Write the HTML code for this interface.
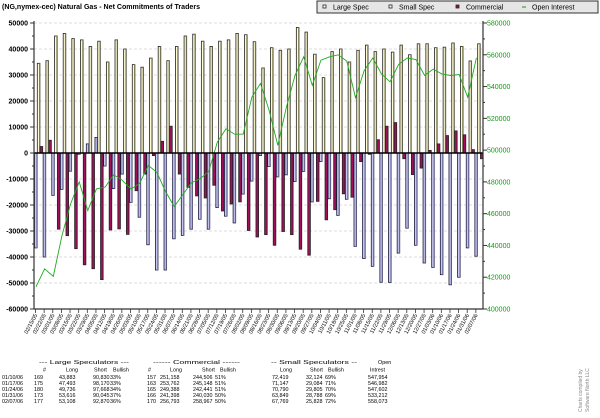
<!DOCTYPE html>
<html><head><meta charset="utf-8"><style>
html,body{margin:0;padding:0;background:#fff;width:600px;height:418px;overflow:hidden}
svg{display:block;font-family:"Liberation Sans",sans-serif}
</style></head><body>
<svg id="chart" width="600" height="418" viewBox="0 0 600 418" xmlns="http://www.w3.org/2000/svg">
<text x="2" y="9" font-size="7" font-weight="bold" textLength="198" lengthAdjust="spacingAndGlyphs">(NG,nymex-cec) Natural Gas - Net Commitments of Traders</text>
<g>
<rect x="317" y="1" width="281" height="12" fill="#e6e6e6" stroke="#333" stroke-width="1"/>
<rect x="323" y="5" width="3" height="3" fill="#fff" stroke="#222" stroke-width="0.8"/>
<text x="333" y="9.5" font-size="7">Large Spec</text>
<rect x="389" y="5" width="3" height="3" fill="#fff" stroke="#222" stroke-width="0.8"/>
<text x="399" y="9.5" font-size="7">Small Spec</text>
<rect x="456" y="5" width="3" height="3" fill="#a0105a" stroke="#222" stroke-width="0.8"/>
<text x="466" y="9.5" font-size="7">Commercial</text>
<line x1="522" y1="7" x2="526" y2="7" stroke="#119911" stroke-width="1"/>
<text x="532" y="9.5" font-size="7">Open Interest</text>
</g>
<g id="grid"></g><g id="bars"></g><g id="oi"></g><g id="axes"></g><g id="xlabels"></g>
<g font-size="5.4" fill="#000">
<text x="39" y="364" textLength="90" lengthAdjust="spacingAndGlyphs">--- Large Speculators ---</text>
<text x="153" y="364" textLength="87" lengthAdjust="spacingAndGlyphs">------ Commercial ------</text>
<text x="271" y="364" textLength="86" lengthAdjust="spacingAndGlyphs">-- Small Speculators --</text>
<text x="378" y="364">Open</text>
<text x="43" y="371.5">#</text><text x="66" y="371.5">Long</text><text x="94" y="371.5">Short</text><text x="113" y="371.5">Bullish</text>
<text x="148" y="371.5">#</text><text x="170" y="371.5">Long</text><text x="202" y="371.5">Short</text><text x="220" y="371.5">Bullish</text>
<text x="280" y="371.5">Long</text><text x="310" y="371.5">Short</text><text x="328" y="371.5">Bullish</text><text x="370" y="371.5">Intrest</text>
<g>
<text x="2" y="379">01/10/06</text><text x="34" y="379">169</text><text x="59" y="379">43,883</text><text x="93" y="379">90,830</text><text x="110" y="379">33%</text><text x="147" y="379">157</text><text x="160" y="379">251,158</text><text x="193" y="379">244,506</text><text x="215" y="379">51%</text><text x="272" y="379">72,419</text><text x="306" y="379">32,124</text><text x="325" y="379">69%</text><text x="368" y="379">547,954</text>
</g><g>
<text x="2" y="385">01/17/06</text><text x="34" y="385">175</text><text x="59" y="385">47,493</text><text x="93" y="385">98,170</text><text x="110" y="385">33%</text><text x="147" y="385">163</text><text x="160" y="385">253,762</text><text x="193" y="385">245,148</text><text x="215" y="385">51%</text><text x="272" y="385">71,147</text><text x="306" y="385">29,084</text><text x="325" y="385">71%</text><text x="368" y="385">546,982</text>
</g><g>
<text x="2" y="391">01/24/06</text><text x="34" y="391">180</text><text x="59" y="391">49,736</text><text x="93" y="391">97,668</text><text x="110" y="391">34%</text><text x="147" y="391">165</text><text x="160" y="391">249,388</text><text x="193" y="391">242,441</text><text x="215" y="391">51%</text><text x="272" y="391">70,790</text><text x="306" y="391">29,805</text><text x="325" y="391">70%</text><text x="368" y="391">547,602</text>
</g><g>
<text x="2" y="397">01/31/06</text><text x="34" y="397">173</text><text x="59" y="397">53,616</text><text x="93" y="397">90,045</text><text x="110" y="397">37%</text><text x="147" y="397">166</text><text x="160" y="397">241,398</text><text x="193" y="397">240,030</text><text x="215" y="397">50%</text><text x="272" y="397">63,849</text><text x="306" y="397">28,788</text><text x="325" y="397">69%</text><text x="368" y="397">533,212</text>
</g><g>
<text x="2" y="403">02/07/06</text><text x="34" y="403">177</text><text x="59" y="403">53,108</text><text x="93" y="403">92,870</text><text x="110" y="403">36%</text><text x="147" y="403">170</text><text x="160" y="403">256,793</text><text x="193" y="403">258,967</text><text x="215" y="403">50%</text><text x="272" y="403">67,769</text><text x="306" y="403">25,828</text><text x="325" y="403">72%</text><text x="368" y="403">558,073</text>
</g>
</g>
<text transform="translate(582,412) rotate(-90)" font-size="5" fill="#888">Charts compiled by</text>
<text transform="translate(589,412) rotate(-90)" font-size="5" fill="#888">Software North LLC</text>
</svg>
<script>
const dates = ["02/15/05","02/22/05","03/01/05","03/08/05","03/15/05","03/22/05","03/29/05","04/05/05","04/12/05","04/19/05","04/26/05","05/03/05","05/10/05","05/17/05","05/24/05","05/31/05","06/07/05","06/14/05","06/21/05","06/28/05","07/05/05","07/12/05","07/19/05","07/26/05","08/02/05","08/09/05","08/16/05","08/23/05","08/30/05","09/06/05","09/13/05","09/20/05","09/27/05","10/04/05","10/11/05","10/18/05","10/25/05","11/01/05","11/08/05","11/15/05","11/22/05","11/29/05","12/06/05","12/13/05","12/20/05","12/27/05","01/03/06","01/10/06","01/17/06","01/24/06","01/31/06","02/07/06"];
const largeSpec = [-36500,-40000,-16300,-14000,-7000,-500,3500,6000,-5000,-13700,-8100,-19000,-24700,-35300,-45000,-45000,-33000,-31700,-29300,-25500,-29300,-21000,-24300,-26900,-15800,-10800,-1000,-5200,-9200,-8400,-11000,-7100,-18800,-3300,-17600,-24000,-17800,-35900,-40600,-43600,-49700,-49800,-38500,-28900,-35500,-42300,-44000,-46800,-50700,-47800,-36500,-39700];
const smallSpec = [34500,35500,45000,46000,44000,43500,41000,43000,35000,43500,40000,34000,33000,36500,41000,35500,41000,45000,45700,43000,41000,43000,43500,46000,45500,42800,32700,40500,39500,40000,48300,46500,38000,29000,39000,40000,35000,39500,41500,39000,40000,38800,41500,37800,42000,42000,40500,40700,42300,41000,35400,42000];
const commercial = [2500,4900,-29300,-31800,-36800,-43000,-44500,-48700,-29600,-29200,-31300,-14500,-8100,-1000,4500,10300,-8100,-13200,-16500,-17300,-12400,-22300,-19600,-18800,-29800,-32300,-31400,-35500,-30200,-31400,-37000,-39300,-18600,-25700,-21800,-15700,-17000,-3300,-500,5100,10300,11700,-2200,-8300,-5800,1000,3500,6700,8500,7000,1300,-2200];
const openInterest = [414000,425300,420500,446000,466000,480000,462000,475600,476700,484500,481000,475500,479000,490300,486000,474000,464500,472000,479500,482000,486500,505000,513500,510000,510000,533400,542000,525000,503000,527000,547000,558700,540700,556600,558700,560000,556000,533000,550000,558000,548000,543000,554000,558000,557000,547000,551000,547954,546982,547602,533212,558073];
const leftTicks = [50000,40000,30000,20000,10000,0,-10000,-20000,-30000,-40000,-50000,-60000];
const rightTicks = [580000,560000,540000,520000,500000,480000,460000,440000,420000,400000];

const NS="http://www.w3.org/2000/svg";
const X0=34, X1=483, YT=23, YB=309;
const step=(X1-X0)/dates.length;
function yL(v){return 153 - v*0.0026;}
function yR(v){return YB - (v-400000)*(YT-YB)/(400000-580000);}
function xG(i){return X0 + 0.5 + i*step;}
function mk(tag,attrs,parent){const e=document.createElementNS(NS,tag);for(const k in attrs)e.setAttribute(k,attrs[k]);parent.appendChild(e);return e;}
const grid=document.getElementById('grid'),bars=document.getElementById('bars'),oi=document.getElementById('oi'),axes=document.getElementById('axes'),xl=document.getElementById('xlabels');

leftTicks.forEach(v=>{
  const y=yL(v);
  if(v!==0 && v!==-60000){const g=mk('line',{x1:X0,x2:X1,y1:y,y2:y,stroke:'#d4d4d4','stroke-width':0.8,'stroke-dasharray':'3,2'},grid);
  
  }
  const t=mk('text',{x:28,y:y+2.5,'font-size':7,'text-anchor':'end','font-weight':'bold'},axes);
  t.textContent=v;
  
  
  mk('line',{x1:X0-4,x2:X0,y1:y,y2:y,stroke:'#333','stroke-width':1},axes);
  if(v>-60000) mk('line',{x1:X0-2,x2:X0,y1:yL(v-5000),y2:yL(v-5000),stroke:'#333','stroke-width':1},axes);
});
rightTicks.forEach(v=>{
  const y=yR(v);
  const t=mk('text',{x:487,y:y+2.5,'font-size':7,fill:'#119911'},axes);
  t.textContent=v;
  
  
  mk('line',{x1:X1,x2:X1+4,y1:y,y2:y,stroke:'#333','stroke-width':1},axes);
  if(v>400000) mk('line',{x1:X1,x2:X1+2,y1:yR(v-10000),y2:yR(v-10000),stroke:'#333','stroke-width':1},axes);
});

const bw=2.6;
function bar(i,off,v,fill,stroke,shade,name){
  const y0=yL(0), y=yL(v);
  const top=Math.min(y,y0), h=Math.max(0.8,Math.abs(y-y0));
  const r=mk('rect',{x:xG(i)+off,y:top,width:bw,height:h,fill:fill,stroke:stroke,'stroke-width':0.8},bars);
  
  
  if(shade) mk('rect',{x:xG(i)+off+bw-0.9,y:top,width:0.9,height:h,fill:shade},bars);
}
dates.forEach((d,i)=>{
  bar(i,0,largeSpec[i],'#c8c8f4','#1a1a3a','#8080b0','bar-large-spec');
  bar(i,2.8,smallSpec[i],'#fffbd2','#222','#8a8a62','bar-small-spec');
  bar(i,5.6,commercial[i],'#a0105a','#222',null,'bar-commercial');
});
mk('line',{x1:X0,x2:X1,y1:yL(0),y2:yL(0),stroke:'#000','stroke-width':1.4},axes);

let pts=openInterest.map((v,i)=>(xG(i)+1.5).toFixed(1)+','+yR(v).toFixed(1)).join(' ');
const pl=mk('polyline',{points:pts,fill:'none',stroke:'#22aa22','stroke-width':0.9},oi);



mk('line',{x1:X0,x2:X0,y1:YT-2,y2:YB,stroke:'#333','stroke-width':1.2},axes);
mk('line',{x1:X1,x2:X1,y1:YT-2,y2:YB,stroke:'#333','stroke-width':1.2},axes);
mk('line',{x1:X0,x2:X1,y1:YB,y2:YB,stroke:'#333','stroke-width':1.2},axes);

dates.forEach((d,i)=>{
  const x=xG(i)+1;
  mk('line',{x1:x,x2:x,y1:YB,y2:YB+4,stroke:'#333','stroke-width':0.8},axes);
  const t=mk('text',{x:0,y:0,'font-size':5.6,'text-anchor':'end',transform:'translate('+(x+2)+','+(YB+6)+') rotate(-62)'},xl);
  t.textContent=d;
  
  
});
</script>
</body></html>
